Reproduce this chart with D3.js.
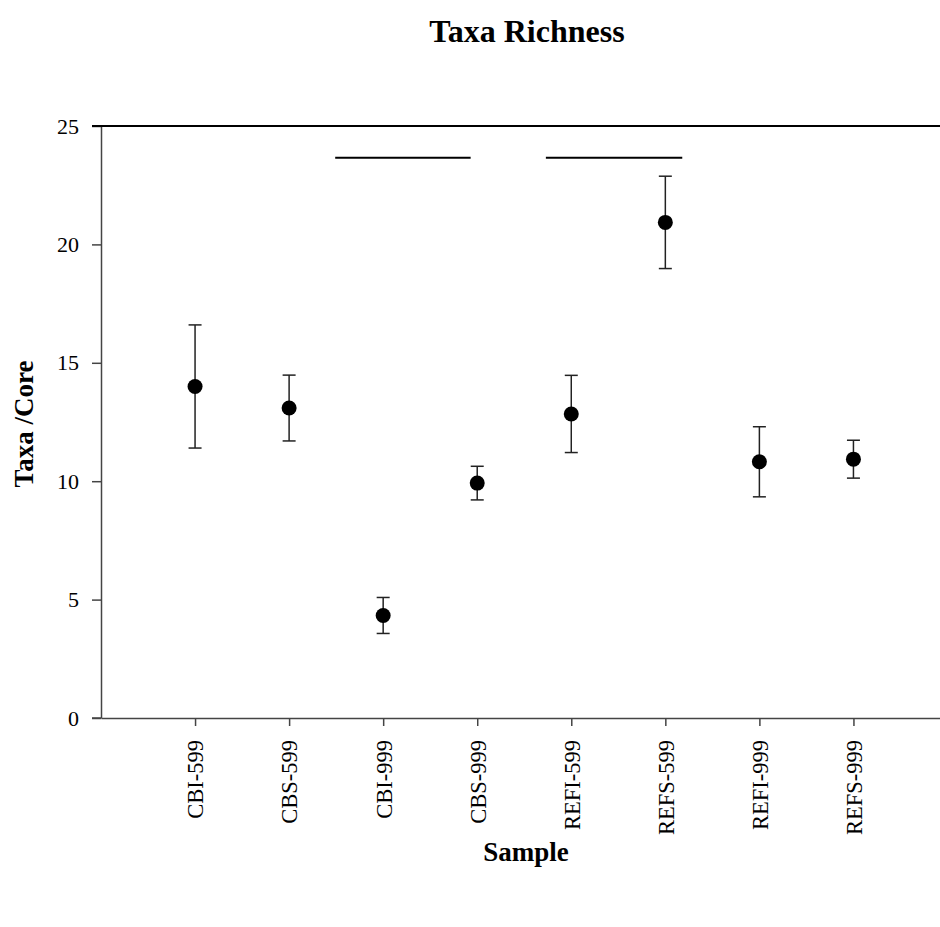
<!DOCTYPE html>
<html>
<head>
<meta charset="utf-8">
<title>Taxa Richness</title>
<script src="https://cdn.jsdelivr.net/npm/d3@7"></script>
<style>
  body { margin: 0; background: #fff; }
  text { font-family: "Liberation Serif", "Times New Roman", serif; fill: #000; }
</style>
</head>
<body>
<script>
// samples along the x axis
var samples = ["CBI-599", "CBS-599", "CBI-999", "CBS-999", "REFI-599", "REFS-599", "REFI-999", "REFS-999"];
// mean taxa per core
var means = [14.0, 13.09, 4.33, 9.92, 12.84, 20.93, 10.82, 10.93];
// error bar half widths
var errors = [2.6, 1.39, 0.76, 0.71, 1.63, 1.95, 1.48, 0.8];
var yTicks = [0, 5, 10, 15, 20, 25];
// horizontal bars above the points (start, end in x units) and their height
var barStarts = [2.49, 4.73];
var barEnds = [3.93, 6.18];
var barLevel = 23.66;

function draw() {
    var width = 940, height = 927;
    var svg = d3.select("body").append("svg").attr("width", width).attr("height", height);

    var x = d3.scaleLinear().domain([0, 9]).range([101, 947.5]);
    var y = d3.scaleLinear().domain([0, 25]).range([718, 126]);

    // y axis
    var yAxis = svg.append("g").attr("transform", "translate(101,0)")
        .call(d3.axisLeft(y).tickValues(yTicks).tickSize(9).tickSizeOuter(0).tickPadding(13));
    yAxis.selectAll("text").style("font-size", "22px").style("font-family", "Liberation Serif");
    yAxis.selectAll("path, line").attr("stroke", "#444").attr("stroke-width", 1.5);

    // x axis
    var xAxis = svg.append("g").attr("transform", "translate(0,718)")
        .call(d3.axisBottom(x).tickValues(d3.range(1, samples.length + 1))
            .tickFormat(function(d) { return samples[d - 1]; })
            .tickSize(8).tickSizeOuter(0));
    xAxis.selectAll("path, line").attr("stroke", "#444").attr("stroke-width", 1.5);
    xAxis.selectAll("text")
        .style("font-size", "22.5px").style("font-family", "Liberation Serif")
        .attr("text-anchor", "end")
        .attr("transform", "rotate(-90)")
        .attr("x", -22).attr("y", 0).attr("dy", "0.35em");

    // bottom line continued to the left under the 0 tick, top frame line
    svg.append("line").attr("x1", 92).attr("x2", 101).attr("y1", y(0)).attr("y2", y(0))
        .attr("stroke", "#444").attr("stroke-width", 1.5);
    svg.append("line").attr("x1", 92).attr("x2", width).attr("y1", y(25)).attr("y2", y(25))
        .attr("stroke", "#000").attr("stroke-width", 2);

    // significance bars
    svg.selectAll(".sig").data(barStarts).enter().append("line").attr("class", "sig")
        .attr("x1", function(d) { return x(d); })
        .attr("x2", function(d, i) { return x(barEnds[i]); })
        .attr("y1", y(barLevel)).attr("y2", y(barLevel))
        .attr("stroke", "#000").attr("stroke-width", 2);

    var pts = samples.map(function(s, i) { return { i: i + 1, m: means[i], e: errors[i] }; });

    // error bars
    var eb = svg.selectAll(".err").data(pts).enter().append("g").attr("class", "err")
        .attr("stroke", "#222").attr("stroke-width", 1.5);
    eb.append("line")
        .attr("x1", function(d) { return x(d.i); }).attr("x2", function(d) { return x(d.i); })
        .attr("y1", function(d) { return y(d.m + d.e); }).attr("y2", function(d) { return y(d.m - d.e); });
    eb.append("line")
        .attr("x1", function(d) { return x(d.i) - 6.5; }).attr("x2", function(d) { return x(d.i) + 6.5; })
        .attr("y1", function(d) { return y(d.m + d.e); }).attr("y2", function(d) { return y(d.m + d.e); });
    eb.append("line")
        .attr("x1", function(d) { return x(d.i) - 6.5; }).attr("x2", function(d) { return x(d.i) + 6.5; })
        .attr("y1", function(d) { return y(d.m - d.e); }).attr("y2", function(d) { return y(d.m - d.e); });

    // points
    svg.selectAll(".pt").data(pts).enter().append("circle").attr("class", "pt")
        .attr("cx", function(d) { return x(d.i); })
        .attr("cy", function(d) { return y(d.m); })
        .attr("r", 7.5).attr("fill", "#000");

    // titles
    svg.append("text").attr("x", 527).attr("y", 42).attr("text-anchor", "middle")
        .style("font-size", "32px").style("font-weight", "bold").text("Taxa Richness");
    svg.append("text").attr("x", 526).attr("y", 861).attr("text-anchor", "middle")
        .style("font-size", "27px").style("font-weight", "bold").text("Sample");
    svg.append("text").attr("transform", "translate(33,424) rotate(-90)").attr("text-anchor", "middle")
        .style("font-size", "27px").style("font-weight", "bold").text("Taxa /Core");
}

draw();
</script>
</body>
</html>
